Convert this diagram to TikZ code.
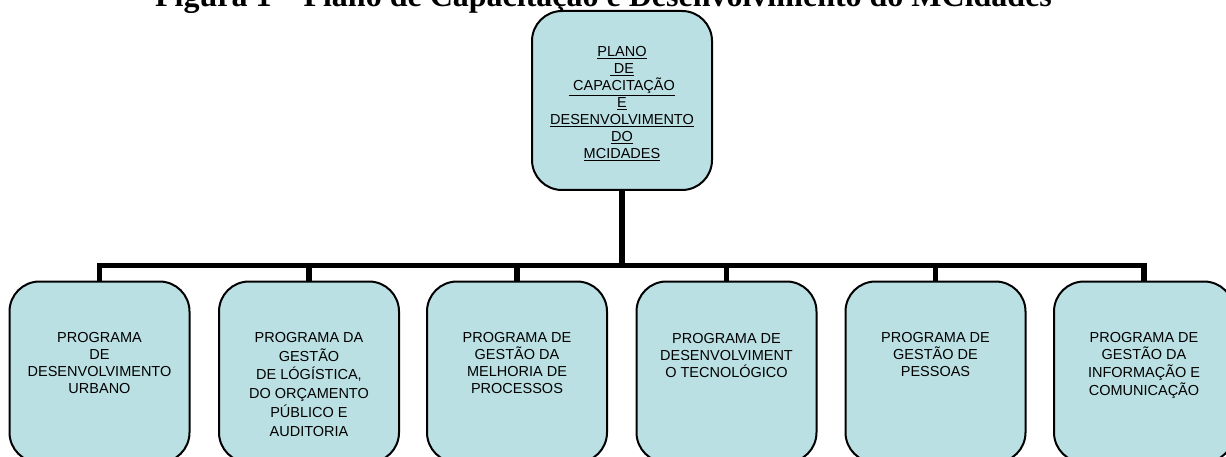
\documentclass[tikz,border=0pt]{standalone}
\usepackage{fontspec}
\setmainfont{Liberation Serif}
\newfontfamily\arialf{Liberation Sans}
\definecolor{boxfill}{HTML}{BBE0E3}
\begin{document}
\begin{tikzpicture}[x=1pt,y=-1pt,
  box/.style={draw=black, line width=2pt, fill=boxfill, rounded corners=30pt,
    minimum width=180pt, minimum height=181pt, inner sep=0pt},
  lbl/.style={font=\arialf\fontsize{14.5}{17}\selectfont, align=center,
    inner sep=0pt, anchor=north},
  conn/.style={line width=5.5pt, draw=black}]
\useasboundingbox (0,0) rectangle (1226,457);
\clip (0,0) rectangle (1226,457);

\node[font=\bfseries\fontsize{32}{36}\selectfont, anchor=base, inner sep=0pt]
  (title) at (603.5,7) {Figura 1 – Plano de Capacitação e Desenvolvimento do MCidades};

\node[box, minimum height=179pt] (top) at (622,100.5) {};
\node[box] (b1) at (99.5,372) {};
\node[box] (b2) at (309,372) {};
\node[box] (b3) at (517,372) {};
\node[box] (b4) at (726.5,372) {};
\node[box] (b5) at (935.5,372) {};
\node[box] (b6) at (1144,372) {};

\coordinate (j) at (622,265.5);
\draw[conn] (b1.north) |- (j) -| (b6.north);
\draw[conn] (top.south) -- (j);
\foreach \b in {b2,b3,b4,b5} {\draw[conn] (\b.north) -- (\b.north |- j);}

\node[lbl] (ttop) at (622,46.5) {\underline{PLANO}\\\underline{\ DE}\\\underline{\ CAPACITAÇÃO}\\\underline{E}\\\underline{DESENVOLVIMENTO}\\\underline{DO}\\\underline{MCIDADES}};
\node[lbl] (t1) at (99.5,332) {PROGRAMA\\DE\\DESENVOLVIMENTO\\URBANO};
\node[lbl, font=\arialf\fontsize{14.5}{18.8}\selectfont] (t2) at (309,332) {PROGRAMA DA\\GESTÃO\\DE LÓGÍSTICA,\\DO ORÇAMENTO\\PÚBLICO E\\AUDITORIA};
\node[lbl] (t3) at (517,332) {PROGRAMA DE\\GESTÃO DA\\MELHORIA DE\\PROCESSOS};
\node[lbl] (t4) at (726.5,333) {PROGRAMA DE\\DESENVOLVIMENT\\O TECNOLÓGICO};
\node[lbl] (t5) at (935.5,332) {PROGRAMA DE\\GESTÃO DE\\PESSOAS};
\node[lbl, font=\arialf\fontsize{14.5}{17.6}\selectfont] (t6) at (1144,332) {PROGRAMA DE\\GESTÃO DA\\INFORMAÇÃO E\\COMUNICAÇÃO};
\end{tikzpicture}
\end{document}
